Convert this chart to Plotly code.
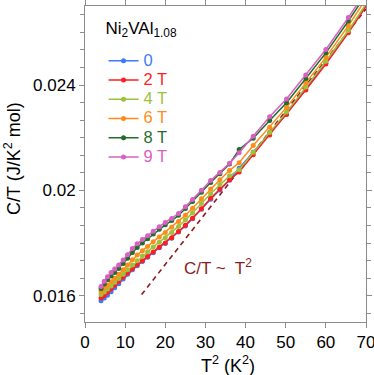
import plotly.graph_objects as go

# T^2 (K^2) sampling points
t2 = [4.0, 4.8, 5.6, 6.5, 7.4, 8.4, 9.5, 10.6, 11.8, 13.0, 14.3, 15.6, 17.0, 18.5, 20.0,
      21.6, 23.3, 25.0, 26.8, 29.0, 31.3, 33.6, 36.0, 38.4, 41.9, 46.0, 50.2, 55.0, 60.0,
      65.6, 71.4]

ct_0T = [0.01581, 0.01591, 0.01602, 0.01615, 0.01630, 0.01645, 0.01663, 0.01681, 0.01698,
         0.01714, 0.01730, 0.01746, 0.01763, 0.01782, 0.01798, 0.01818, 0.01842, 0.01865,
         0.01892, 0.01928, 0.01966, 0.02001, 0.02038, 0.02084, 0.02145, 0.02220, 0.02290,
         0.02385, 0.02484, 0.02602, 0.02735]
ct_2T = [0.01591, 0.01601, 0.01612, 0.01625, 0.01640, 0.01654, 0.01670, 0.01686, 0.01702,
         0.01717, 0.01733, 0.01749, 0.01766, 0.01784, 0.01800, 0.01820, 0.01844, 0.01867,
         0.01894, 0.01930, 0.01970, 0.02005, 0.02040, 0.02070, 0.02135, 0.02210, 0.02288,
         0.02381, 0.02480, 0.02598, 0.02730]
ct_4T = [0.01604, 0.01614, 0.01625, 0.01637, 0.01651, 0.01665, 0.01681, 0.01698, 0.01716,
         0.01733, 0.01751, 0.01767, 0.01785, 0.01803, 0.01820, 0.01840, 0.01863, 0.01887,
         0.01914, 0.01950, 0.01987, 0.02022, 0.02055, 0.02078, 0.02145, 0.02220, 0.02297,
         0.02392, 0.02490, 0.02607, 0.02740]
ct_6T = [0.01617, 0.01628, 0.01640, 0.01653, 0.01666, 0.01681, 0.01698, 0.01716, 0.01736,
         0.01754, 0.01771, 0.01787, 0.01805, 0.01823, 0.01840, 0.01860, 0.01882, 0.01905,
         0.01932, 0.01968, 0.02005, 0.02040, 0.02075, 0.02105, 0.02170, 0.02240, 0.02315,
         0.02408, 0.02505, 0.02625, 0.02760]
ct_8T = [0.01627, 0.01644, 0.01660, 0.01675, 0.01688, 0.01703, 0.01722, 0.01742, 0.01764,
         0.01783, 0.01800, 0.01816, 0.01834, 0.01852, 0.01869, 0.01885, 0.01905, 0.01931,
         0.01958, 0.01993, 0.02030, 0.02063, 0.02100, 0.02155, 0.02198, 0.02265, 0.02333,
         0.02425, 0.02522, 0.02643, 0.02776]
ct_9T = [0.01635, 0.01655, 0.01672, 0.01688, 0.01701, 0.01716, 0.01735, 0.01755, 0.01779,
         0.01797, 0.01813, 0.01828, 0.01845, 0.01862, 0.01878, 0.01893, 0.01912, 0.01938,
         0.01965, 0.02000, 0.02037, 0.02068, 0.02103, 0.02143, 0.02205, 0.02279, 0.02347,
         0.02438, 0.02535, 0.02656, 0.02790]

series_names = ["0", "2 T", "4 T", "6 T", "8 T", "9 T"]
series_values = [ct_0T, ct_2T, ct_4T, ct_6T, ct_8T, ct_9T]
series_colors = ["#3a7bff", "#ff1f1f", "#9cc23c", "#ff8c1a", "#1f6e2b", "#d860c2"]

guide_x = [14.1, 70.0]
guide_y = [0.01604, 0.02689]

x_ticks = [0, 10, 20, 30, 40, 50, 60, 70]
y_ticks = [0.016, 0.020, 0.024]
y_tick_labels = ["0.016", "0.02", "0.024"]

FONT = "Liberation Sans, Arial, sans-serif"
AXIS_GRAY = "#8c8c8c"
DARK_RED = "#8b1c1c"

fig = go.Figure()

fig.add_trace(go.Scatter(
    x=guide_x, y=guide_y, mode="lines", showlegend=False, hoverinfo="skip",
    line=dict(color=DARK_RED, width=1.6, dash="5px,4px")))

for name, vals, col in zip(series_names, series_values, series_colors):
    fig.add_trace(go.Scatter(
        x=t2, y=vals, mode="lines+markers",
        name=f"<span style='color:{col};font-size:16.5px'>{name}</span>",
        line=dict(color=col, width=1.5),
        marker=dict(color=col, size=5),
    ))

fig.add_annotation(
    x=24.2, y=0.01710, xref="x", yref="y", xanchor="left", yanchor="middle",
    text="C/T ~  T<sup>2</sup>", showarrow=False,
    font=dict(family=FONT, size=17, color=DARK_RED))

# axis titles
fig.add_annotation(
    x=0.509, y=-0.136, xref="paper", yref="paper", xanchor="center", yanchor="middle",
    text="T<sup>2</sup> (K<sup>2</sup>)", showarrow=False,
    font=dict(family=FONT, size=18, color="black"))
fig.add_annotation(
    x=-0.256, y=0.516, xref="paper", yref="paper", xanchor="center", yanchor="middle",
    text="C/T (J/K<sup>2</sup> mol)", showarrow=False, textangle=-90,
    font=dict(family=FONT, size=18, color="black"))

fig.update_layout(
    width=374, height=375,
    margin=dict(l=85, r=8, t=6, b=53, autoexpand=False),
    paper_bgcolor="white", plot_bgcolor="white",
    font=dict(family=FONT, size=17, color="black"),
    showlegend=True,
    legend=dict(
        x=0.066, y=0.951, xanchor="left", yanchor="top",
        bgcolor="rgba(0,0,0,0)", borderwidth=0,
        font=dict(family=FONT, size=12.5),
        title=dict(text="<span style='font-size:17px'>Ni<sub>2</sub>VAl<sub>1.08</sub></span><br> ",
                   side="top",
                   font=dict(family=FONT, size=9.5, color="black")),
        itemwidth=30, tracegroupgap=0,
    ),
    xaxis=dict(
        range=[0, 70], tickvals=x_ticks, ticks="outside", ticklen=5,
        tickcolor=AXIS_GRAY, showline=True, linecolor=AXIS_GRAY, linewidth=1,
        mirror="allticks", showgrid=False, zeroline=False, automargin=False,
        ticklabeloverflow="allow",
        tickfont=dict(family=FONT, size=17, color="black"),
    ),
    yaxis=dict(
        range=[0.015, 0.027], tickvals=y_ticks, ticktext=y_tick_labels,
        ticks="outside", ticklen=5, tickcolor=AXIS_GRAY,
        showline=True, linecolor=AXIS_GRAY, linewidth=1, mirror="allticks",
        showgrid=False, zeroline=False, automargin=False,
        ticklabeloverflow="allow",
        minor=dict(dtick=0.004 / 6, tick0=0.016, ticks="outside", ticklen=4,
                   tickcolor=AXIS_GRAY, showgrid=False),
        tickfont=dict(family=FONT, size=17, color="black"),
    ),
)

fig.write_html("out.html",
               config={"displayModeBar": False},
               post_script="document.body.style.margin='0';document.body.style.overflow='hidden';")
